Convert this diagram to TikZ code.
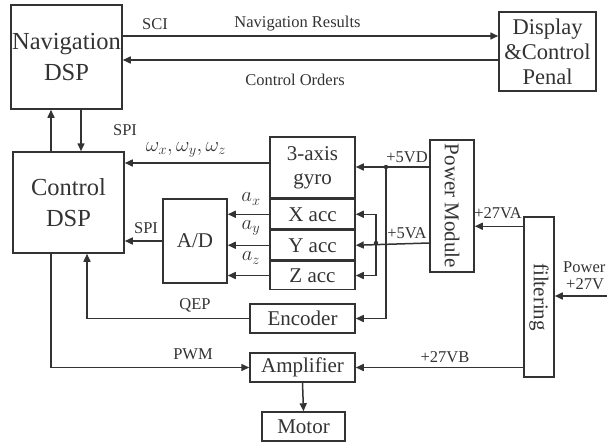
\documentclass[tikz,border=0pt]{standalone}
\usepackage{fontspec}
\setmainfont{Liberation Serif}
\usetikzlibrary{arrows.meta,positioning,calc}
\definecolor{Ink}{HTML}{333333}
\tikzset{
 block/.style={draw=Ink,line width=1.5pt,align=center,inner sep=0pt,
   font=\fontsize{21}{24}\selectfont,text=Ink},
 big/.style={block,font=\fontsize{24.5}{31}\selectfont},
 arr/.style={-{Triangle[length=8pt,width=7pt]},line width=1.5pt,draw=Ink},
 lbl/.style={font=\fontsize{16.5}{18}\selectfont,text=Ink,inner sep=1pt},
 sym/.style={lbl,font=\fontsize{21}{23}\selectfont}
}
\begin{document}
\begin{tikzpicture}[x=1pt,y=-1pt]
\useasboundingbox (0,0) rectangle (607,442);
% blocks
\node[big,minimum width=111pt,minimum height=104pt] (nav) at (66.5,57) {Navigation\\DSP};
\node[block,font=\fontsize{22.5}{25}\selectfont,minimum width=97pt,minimum height=79pt] (disp) at (547.5,51.5) {Display\\\&Control\\Penal};
\node[big,minimum width=111pt,minimum height=101pt] (ctrl) at (68.5,202.5) {Control\\DSP};
\node[block,minimum width=64pt,minimum height=84pt] (ad) at (195,241) {A/D};
\node[block,minimum width=85pt,minimum height=61pt] (gyro) at (312.5,167.5) {3-axis\\gyro};
\node[block,minimum width=85pt,minimum height=29.5pt,below=0pt of gyro] (xacc) {X acc};
\node[block,minimum width=85pt,minimum height=29.5pt,below=0pt of xacc] (yacc) {Y acc};
\node[block,minimum width=85pt,minimum height=28pt,below=0pt of yacc] (zacc) {Z acc};
\node[block,minimum width=44pt,minimum height=132pt] (pwr) at (452,206) {};
\node[font=\fontsize{21}{24}\selectfont,text=Ink,rotate=-90] at (pwr.center) {Power Module};
\node[block,minimum width=30pt,minimum height=160pt] (filt) at (539,297) {};
\node[font=\fontsize{21}{24}\selectfont,text=Ink,rotate=-90] at (filt.center) {filtering};
\node[block,minimum width=105pt,minimum height=29pt] (enc) at (302.5,318.5) {Encoder};
\node[block,minimum width=105pt,minimum height=29pt] (amp) at (302.5,367.5) {Amplifier};
\node[block,minimum width=83pt,minimum height=29pt] (motor) at (303.5,426.5) {Motor};
% helper points
\coordinate (sci) at ([yshift=21pt]nav.east);
\coordinate (co) at ([yshift=-3pt]nav.east);
\coordinate (up) at ([xshift=-17.5pt]ctrl.north);
\coordinate (dn) at ([xshift=14.5pt]nav.south);
\coordinate (om) at ([yshift=4.5pt]gyro.west);
\coordinate (vd) at ([yshift=39pt]pwr.west);
\coordinate (jd) at (386,167);
\coordinate (ja) at (376,243);
\coordinate (va) at ([yshift=-10pt]filt.north west);
\coordinate (pin) at (607,296);
\coordinate (qe) at ([xshift=18.5pt]ctrl.south);
\coordinate (pw) at ([xshift=-17.5pt]ctrl.south);
% connectors
\draw[arr] (sci) -- (sci -| disp.west);
\draw[arr] (co -| disp.west) -- (co);
\draw[arr] (up) -- (up |- nav.south);
\draw[arr] (dn) -- (dn |- ctrl.north);
\draw[arr] (om) -- (om -| ctrl.east);
\draw[arr] (xacc.west) -- (xacc.west -| ad.east);
\draw[arr] (yacc.west) -- (yacc.west -| ad.east);
\draw[arr] (zacc.west) -- (zacc.west -| ad.east);
\draw[arr] (ad.west) -- (ad.west -| ctrl.east);
\draw[arr] (vd) -- (vd -| gyro.east);
\draw[arr] (jd) |- (enc.east);
\fill[Ink] (jd) circle (2.2pt);
\draw[arr] (ja -| pwr.west) -- (yacc.east);
\draw[arr] (ja) |- (xacc.east);
\draw[arr] (ja) |- (zacc.east);
\fill[Ink] (ja) circle (2.2pt);
\draw[arr] (va) -- (va -| pwr.east);
\draw[arr] (pin) -- (pin -| filt.east);
\draw[arr] (enc.west) -| (qe);
\draw[arr] (pw) |- (amp.west);
\draw[arr] (amp.east -| filt.west) -- (amp.east);
\draw[arr] (amp.south) -- (motor.north);
% labels
\node[lbl] (lsci) at (155,24) {SCI};
\node[lbl] (lres) at (297.5,24) {Navigation Results};
\node[lbl] (lord) at (295,80) {Control Orders};
\node[lbl] (lspi) at (125,130) {SPI};
\node[sym] (lom) at (186,150) {$\omega_x,\omega_y,\omega_z$};
\node[sym] (lax) at (251,199) {$a_x$};
\node[sym] (lay) at (251,228) {$a_y$};
\node[sym] (laz) at (251,258) {$a_z$};
\node[lbl] (lspi2) at (146,228) {SPI};
\node[lbl] (l5vd) at (407,157) {+5VD};
\node[lbl] (l5va) at (407,233) {+5VA};
\node[lbl] (l27va) at (498,213) {+27VA};
\node[lbl,anchor=west] (lpow) at (562,267) {Power};
\node[lbl,anchor=west] (l27v) at (565,284) {+27V};
\node[lbl] (lqep) at (195,305) {QEP};
\node[lbl] (lpwm) at (193,354) {PWM};
\node[lbl] (l27vb) at (445,357) {+27VB};
\end{tikzpicture}
\end{document}
